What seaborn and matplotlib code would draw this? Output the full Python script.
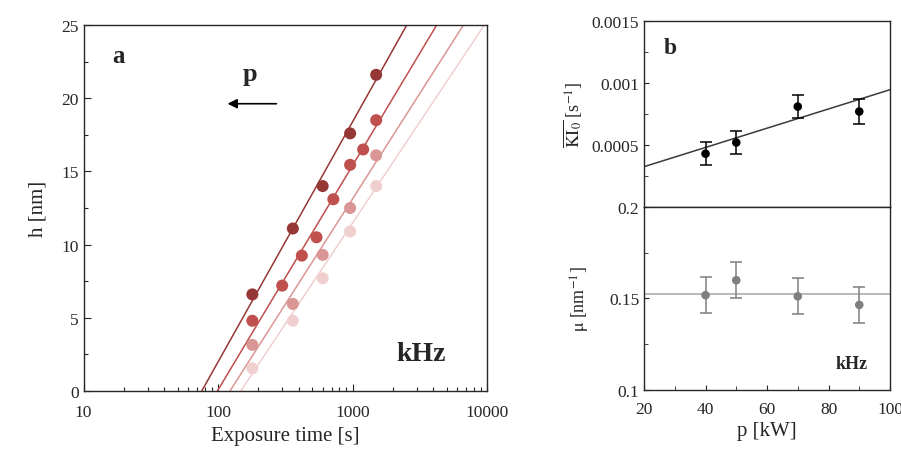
import matplotlib
matplotlib.use("Agg")
import matplotlib.pyplot as plt
import numpy as np
import pandas as pd
import seaborn as sns
from matplotlib.ticker import MultipleLocator, LogLocator, NullFormatter

sns.set_style("ticks")
plt.rcParams['font.family'] = ['Liberation Serif', 'DejaVu Serif']
plt.rcParams['mathtext.fontset'] = 'stix'

# panel a: h vs exposure time, one series per power
t1 = [180, 360, 600, 960, 1500]
h1 = [6.6, 11.1, 14.0, 17.6, 21.6]
t2 = [180, 300, 420, 540, 720, 960, 1200, 1500]
h2 = [4.8, 7.2, 9.25, 10.5, 13.1, 15.45, 16.5, 18.5]
t3 = [180, 360, 600, 960, 1500]
h3 = [3.15, 5.95, 9.3, 12.5, 16.1]
t4 = [180, 360, 600, 960, 1500]
h4 = [1.55, 4.8, 7.7, 10.9, 14.0]
# fitted lines: time where h = 0 and slope in nm per decade
fit_t0 = [75.7, 98.9, 122.7, 147.5]
fit_slope = [16.4, 15.33, 14.4, 13.8]
colors_a = ["#953735", "#C0504D", "#D99694", "#F0D0CF"]

# panel b: KI0 and mu vs power
p = [40, 50, 70, 90]
ki0 = [0.00043, 0.00052, 0.00081, 0.00077]
ki0_err = [0.000095, 0.00009, 0.000094, 0.0001]
ki0_fit = [0.00017, 7.76e-6]  # intercept, slope per kW
mu = [0.1517, 0.1599, 0.1511, 0.1464]
mu_err = [0.01, 0.0099, 0.0099, 0.0099]
mu_mean = 0.1524

TICK = 12.5
LAB = 15

fig = plt.figure(figsize=(9.01, 4.52), dpi=100)
ax = fig.add_axes([0.0927, 0.1327, 0.4478, 0.8097])

series = [(t1, h1), (t2, h2), (t3, h3), (t4, h4)]
tt = np.logspace(1, 4, 200)
for (t, h), t0, s, c in zip(series, fit_t0, fit_slope, colors_a):
    line = pd.DataFrame({"t": tt, "h": s * np.log10(tt / t0)})
    sns.lineplot(data=line, x="t", y="h", color=c, lw=1.1, ax=ax)
    sns.scatterplot(x=t, y=h, color=c, s=75, edgecolor="none", ax=ax, zorder=3)

ax.set_xscale("log")
ax.set_xlim(10, 10000)
ax.set_ylim(0, 25)
ax.yaxis.set_major_locator(MultipleLocator(5))
ax.yaxis.set_minor_locator(MultipleLocator(2.5))
ax.xaxis.set_major_locator(LogLocator(base=10))
ax.xaxis.set_minor_locator(LogLocator(base=10, subs=np.arange(2, 10)))
ax.xaxis.set_minor_formatter(NullFormatter())
ax.set_xticks([10, 100, 1000, 10000])
ax.set_xticklabels(["10", "100", "1000", "10000"])
ax.tick_params(which="both", direction="in", labelsize=TICK, width=0.8)
ax.tick_params(which="major", length=5)
ax.tick_params(which="minor", length=3)
ax.tick_params(axis="x", pad=9)
ax.set_xlabel("Exposure time [s]", fontsize=LAB, labelpad=5)
ax.set_ylabel("h [nm]", fontsize=LAB, labelpad=10)
for sp in ax.spines.values():
    sp.set_linewidth(1.0)
ax.text(0.07, 0.9, "a", transform=ax.transAxes, fontsize=18, fontweight="bold")
ax.text(0.395, 0.85, "p", transform=ax.transAxes, fontsize=19, fontweight="bold")
ax.annotate("", xy=(0.35, 0.785), xytext=(0.485, 0.785), xycoords="axes fraction",
            arrowprops=dict(arrowstyle="-|>", color="black", lw=1.2, mutation_scale=14))
ax.text(0.775, 0.085, "kHz", transform=ax.transAxes, fontsize=20, fontweight="bold")

# right panels
axt = fig.add_axes([0.7148, 0.5398, 0.273, 0.4115])
axb = fig.add_axes([0.7148, 0.1358, 0.273, 0.4040], sharex=axt)

pp = np.array([20, 100])
sns.lineplot(x=pp, y=ki0_fit[0] + ki0_fit[1] * pp, color="#3a3a3a", lw=1.1, ax=axt)
axt.errorbar(p, ki0, yerr=ki0_err, fmt="none", ecolor="black", elinewidth=1.1,
             capsize=4, capthick=1.1)
sns.scatterplot(x=p, y=ki0, color="black", s=38, edgecolor="none", ax=axt, zorder=3)
axt.set_xlim(20, 100)
axt.set_ylim(0, 0.0015)
axt.yaxis.set_major_locator(MultipleLocator(0.0005))
axt.yaxis.set_minor_locator(MultipleLocator(0.00025))
axt.set_yticks([0.0005, 0.001, 0.0015])
axt.set_yticklabels(["0.0005", "0.001", "0.0015"])
axt.tick_params(axis="x", which="both", bottom=False, labelbottom=False)
axt.tick_params(axis="y", which="both", direction="in", labelsize=TICK)
axt.tick_params(axis="y", which="minor", length=3)
axt.set_ylabel(r"$\overline{\mathrm{KI}_0}$ [s$^{-1}$]", fontsize=13, labelpad=5)
axt.text(0.08, 0.83, "b", transform=axt.transAxes, fontsize=17, fontweight="bold")

sns.lineplot(x=pp, y=[mu_mean, mu_mean], color="#a6a6a6", lw=1.1, ax=axb)
axb.errorbar(p, mu, yerr=mu_err, fmt="none", ecolor="#7f7f7f", elinewidth=1.1,
             capsize=4, capthick=1.1)
sns.scatterplot(x=p, y=mu, color="#7f7f7f", s=38, edgecolor="none", ax=axb, zorder=3)
axb.set_ylim(0.1, 0.2)
axb.set_yticks([0.1, 0.15, 0.2])
axb.set_yticklabels(["0.1", "0.15", "0.2"])
axb.yaxis.set_minor_locator(MultipleLocator(0.025))
axb.xaxis.set_major_locator(MultipleLocator(20))
axb.xaxis.set_minor_locator(MultipleLocator(10))
axb.tick_params(which="both", direction="in", labelsize=TICK)
axb.tick_params(which="minor", length=3)
axb.tick_params(axis="x", pad=8)
axb.set_xlabel("p [kW]", fontsize=LAB, labelpad=3)
axb.set_ylabel(r"$\mathrm{\mu}$ [nm$^{-1}$]", fontsize=13, labelpad=12)
axb.text(0.78, 0.12, "kHz", transform=axb.transAxes, fontsize=13, fontweight="bold")
for a in (axt, axb):
    for sp in a.spines.values():
        sp.set_linewidth(1.0)

fig.savefig("out.png", dpi=100)
